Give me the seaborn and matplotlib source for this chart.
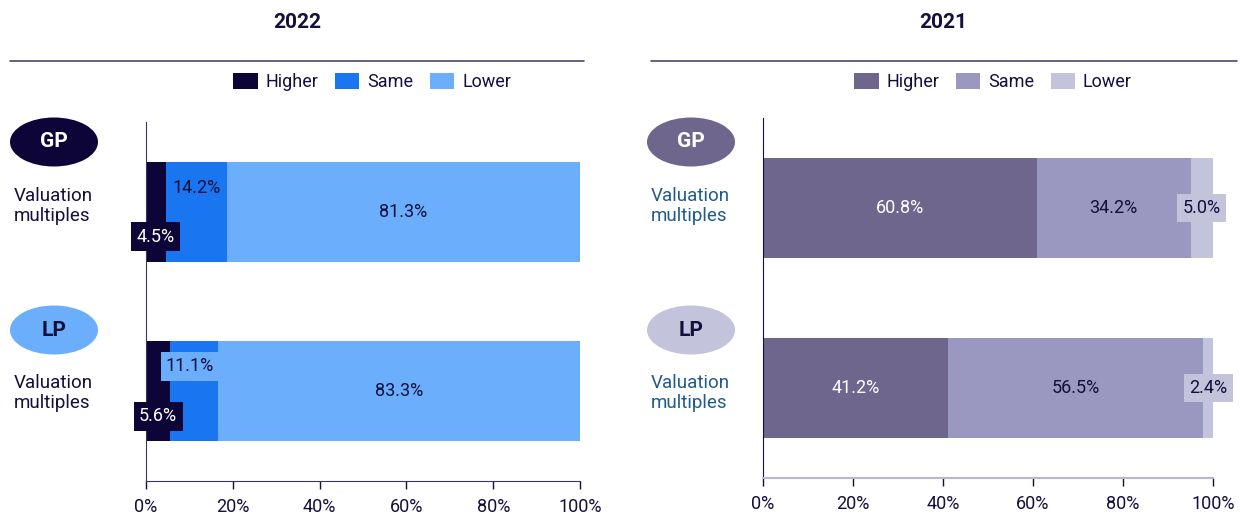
import matplotlib

matplotlib.use("Agg")
import matplotlib.pyplot as plt
from matplotlib.patches import Ellipse, Patch
from matplotlib.lines import Line2D
import pandas as pd
import seaborn as sns

groups = ["GP", "LP"]
segments = ["Higher", "Same", "Lower"]
higher_2022 = [4.5, 5.6]
same_2022 = [14.2, 11.1]
lower_2022 = [81.3, 83.3]
higher_2021 = [60.8, 41.2]
same_2021 = [34.2, 56.5]
lower_2021 = [5.0, 2.4]
xticks = [0, 20, 40, 60, 80, 100]
row_label = "Valuation\nmultiples"

colors_2022 = ["#0d0538", "#1a75f0", "#6aaefc"]
colors_2021 = ["#6e668c", "#9a98c0", "#c4c3dc"]
dark = "#140f3c"

sns.set_style("white")
plt.rcParams["font.family"] = ["Roboto", "DejaVu Sans"]

fig = plt.figure(figsize=(12.4, 5.2), dpi=100)
ax1 = fig.add_axes([146 / 1240, 1 - 481 / 520, 434 / 1240, 359 / 520])
ax2 = fig.add_axes([763 / 1240, 1 - 478 / 520, 450 / 1240, 360 / 520])


def stacked(ax, higher, same, lower, colors):
    df = pd.DataFrame({"group": groups, "Higher": higher, "Same": same, "Lower": lower})
    df["c1"] = df["Higher"]
    df["c2"] = df["Higher"] + df["Same"]
    df["c3"] = df["c2"] + df["Lower"]
    for col, color in zip(["c3", "c2", "c1"], colors[::-1]):
        sns.barplot(data=df, x=col, y="group", order=groups, color=color,
                    width=0.555, saturation=1, linewidth=0, orient="h", ax=ax)
    ax.set_xlim(0, 100)
    ax.set_ylim(1.5, -0.5)
    ax.set_xticks(xticks)
    ax.set_xticklabels([f"{t}%" for t in xticks], fontsize=13, color=dark)
    ax.set_yticks([])
    ax.set_xlabel("")
    ax.set_ylabel("")
    for s in ["top", "right"]:
        ax.spines[s].set_visible(False)
    ax.tick_params(axis="x", bottom=True, length=6, width=1, color=dark, pad=6)
    return df


def put(ax, x, y, txt, color, box=None):
    kw = dict(ha="center", va="center", fontsize=13, color=color, clip_on=False)
    if box is not None:
        kw["bbox"] = dict(boxstyle="square,pad=0.3", fc=box, ec="none")
    ax.text(x, y, txt, **kw)


d1 = stacked(ax1, higher_2022, same_2022, lower_2022, colors_2022)
ax1.spines["left"].set_color("#3b3563")
ax1.spines["bottom"].set_color("#3b3563")
for i in range(2):
    h, s, l = d1.loc[i, "Higher"], d1.loc[i, "Same"], d1.loc[i, "Lower"]
    put(ax1, h / 2, i + 0.14, f"{h:.1f}%", "white", box=colors_2022[0])
    if i == 0:
        put(ax1, h + s / 2, i - 0.13, f"{s:.1f}%", dark)
    else:
        put(ax1, h + s / 2 - 1, i - 0.14, f"{s:.1f}%", dark, box=colors_2022[2])
    put(ax1, h + s + l / 2, i, f"{l:.1f}%", dark)

d2 = stacked(ax2, higher_2021, same_2021, lower_2021, colors_2021)
ax2.spines["left"].set_color(dark)
ax2.spines["bottom"].set_color("#b9b7d6")
ax2.spines["bottom"].set_linewidth(1.5)
for i in range(2):
    h, s, l = d2.loc[i, "Higher"], d2.loc[i, "Same"], d2.loc[i, "Lower"]
    put(ax2, h / 2, i, f"{h:.1f}%", "white")
    put(ax2, h + s / 2, i, f"{s:.1f}%", dark)
    put(ax2, h + s + l / 2, i, f"{l:.1f}%", dark, box=colors_2021[2])

# titles and rules
fig.text(297 / 1240, 1 - 22 / 520, "2022", ha="center", va="center",
         fontsize=15, fontweight="bold", color=dark)
fig.text(943 / 1240, 1 - 22 / 520, "2021", ha="center", va="center",
         fontsize=15, fontweight="bold", color=dark)
fig.add_artist(Line2D([10 / 1240, 584 / 1240], [1 - 61 / 520] * 2,
                      color="#4a4470", lw=1.2))
fig.add_artist(Line2D([651 / 1240, 1237 / 1240], [1 - 61 / 520] * 2,
                      color="#4a4470", lw=1.2))

# legends
for colors, cx in [(colors_2022, 372 / 1240), (colors_2021, 993 / 1240)]:
    handles = [Patch(fc=c, ec="none", label=n) for c, n in zip(colors, segments)]
    fig.legend(handles=handles, loc="center", bbox_to_anchor=(cx, 1 - 82 / 520),
               ncol=3, frameon=False, fontsize=13, handlelength=1.35,
               handleheight=1.05, handletextpad=0.45, columnspacing=0.9,
               labelcolor=dark)

# GP / LP badges and row labels
badges = [
    (54, colors_2022[0], "white", 14, dark),
    (691, colors_2021[0], "white", 651, "#1f5b8f"),
]
for gx, gp_col, gp_txt, lx, lab_col in badges:
    lp_col = colors_2022[2] if gx < 600 else colors_2021[2]
    for name, cy, fc, tc in [("GP", 142, gp_col, gp_txt), ("LP", 330, lp_col, dark)]:
        fig.add_artist(Ellipse((gx / 1240, 1 - cy / 520), 88 / 1240, 49 / 520,
                               transform=fig.transFigure, fc=fc, ec="none"))
        fig.text(gx / 1240, 1 - cy / 520, name, ha="center", va="center",
                 fontsize=15, fontweight="bold", color=tc)
    for cy in [206, 393]:
        fig.text(lx / 1240, 1 - cy / 520, row_label, ha="left", va="center",
                 fontsize=13.5, color=lab_col, linespacing=1.1)

fig.savefig("out.png", dpi=100)
